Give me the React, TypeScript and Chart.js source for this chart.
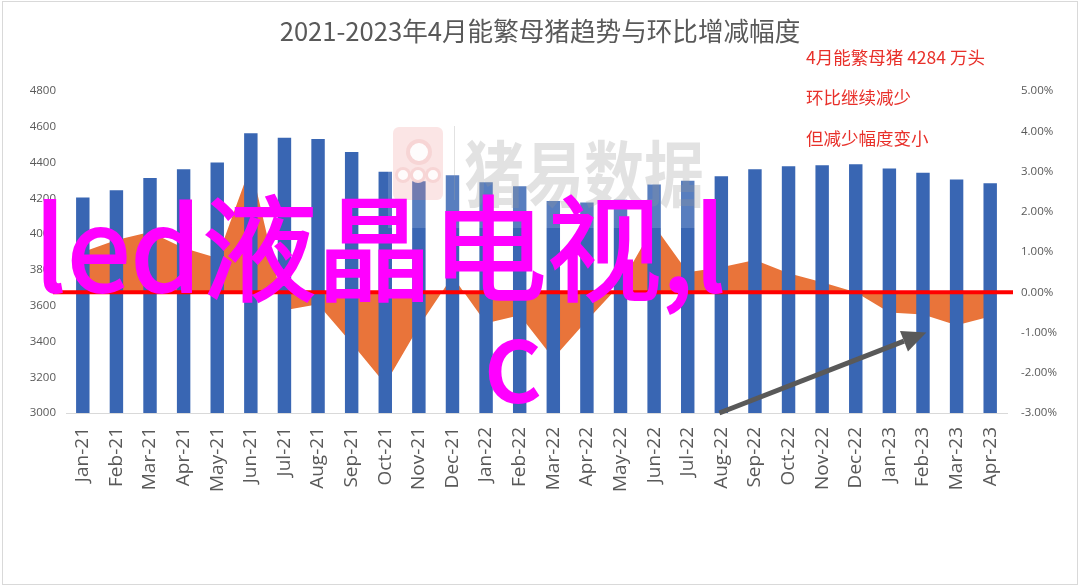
import React, { useEffect, useRef } from "react";
import { Chart, registerables } from "chart.js";

Chart.register(...registerables);

const categories = [
  "Jan-21", "Feb-21", "Mar-21", "Apr-21", "May-21", "Jun-21", "Jul-21", "Aug-21", "Sep-21", "Oct-21",
  "Nov-21", "Dec-21", "Jan-22", "Feb-22", "Mar-22", "Apr-22", "May-22", "Jun-22", "Jul-22", "Aug-22",
  "Sep-22", "Oct-22", "Nov-22", "Dec-22", "Jan-23", "Feb-23", "Mar-23", "Apr-23",
];

// 能繁母猪存栏（万头）
const sowInventory = [
  4205, 4245, 4313, 4363, 4400, 4564, 4539, 4531, 4459, 4348,
  4296, 4329, 4290, 4268, 4185, 4177, 4192, 4277, 4298, 4324,
  4362, 4379, 4385, 4390, 4367, 4343, 4305, 4284,
];

// 环比增减幅度（%）
const momChange = [
  1.0, 1.3, 1.5, 1.1, 0.85, 3.15, -0.45, -0.3, -1.27, -2.28,
  -0.85, 0.4, -0.77, -0.57, -1.64, -0.7, 0.2, 1.66, 0.5, 0.62,
  0.8, 0.47, 0.25, 0.0, -0.5, -0.55, -0.82, -0.6,
];

const leftTickMin = 3000;
const leftTickMax = 4800;
const leftTickStep = 200;
const rightTickMin = -3;
const rightTickMax = 5;
const rightTickStep = 1;

const titleText = "2021-2023年4月能繁母猪趋势与环比增减幅度";
const noteLines = ["4月能繁母猪 4284 万头", "环比继续减少", "但减少幅度变小"];
const overlayLine1 = "led液晶电视,l";
const overlayLine2 = "c";
const watermarkText = "猪易数据";

const axisColor = "#595959";
const tickFont = '"Open Sans", "Noto Sans", sans-serif';
const cjkFont = '"Noto Sans CJK SC", "Noto Sans", sans-serif';

const overlayPlugin = {
  id: "overlayPlugin",
  afterDatasetsDraw(chart: any) {
    const { ctx, scales } = chart;
    const y1 = scales.y1;
    const x = scales.x;
    const y = scales.y;
    // zero reference line
    const zy = y1.getPixelForValue(0);
    ctx.save();
    ctx.strokeStyle = "#ff0000";
    ctx.lineWidth = 4;
    ctx.beginPath();
    ctx.moveTo(53, zy);
    ctx.lineTo(1013, zy);
    ctx.stroke();

    // arrow
    const sx = x.getPixelForValue(18.94);
    const sy = y.getPixelForValue(3000);
    const ex = x.getPixelForValue(25.1);
    const ey = y1.getPixelForValue(-1.0);
    const ang = Math.atan2(ey - sy, ex - sx);
    const headLen = 24;
    const headW = 11;
    const bx = ex - headLen * Math.cos(ang);
    const by = ey - headLen * Math.sin(ang);
    ctx.strokeStyle = "#595959";
    ctx.fillStyle = "#595959";
    ctx.lineWidth = 5;
    ctx.lineCap = "butt";
    ctx.beginPath();
    ctx.moveTo(sx, sy);
    ctx.lineTo(bx, by);
    ctx.stroke();
    ctx.beginPath();
    ctx.moveTo(ex, ey);
    ctx.lineTo(bx + headW * Math.sin(ang), by - headW * Math.cos(ang));
    ctx.lineTo(bx - headW * Math.sin(ang), by + headW * Math.cos(ang));
    ctx.closePath();
    ctx.fill();

    // frame
    ctx.strokeStyle = "#d9d9d9";
    ctx.lineWidth = 1;
    ctx.strokeRect(2.5, 1.5, 1075, 583);
    ctx.restore();
  },
};

export default function App() {
  const canvasRef = useRef<HTMLCanvasElement | null>(null);

  useEffect(() => {
    if (!canvasRef.current) return;
    const chart = new Chart(canvasRef.current, {
      type: "bar",
      data: {
        labels: categories,
        datasets: [
          {
            type: "bar",
            label: "能繁母猪存栏",
            data: sowInventory,
            backgroundColor: "#3966b3",
            borderWidth: 0,
            barPercentage: 0.4,
            categoryPercentage: 1,
            yAxisID: "y",
            order: 1,
          },
          {
            type: "line",
            label: "环比",
            data: momChange,
            yAxisID: "y1",
            fill: "origin",
            backgroundColor: "#e9743a",
            borderWidth: 0,
            pointRadius: 0,
            tension: 0,
            order: 2,
          } as any,
        ],
      },
      options: {
        animation: false,
        responsive: false,
        layout: { padding: { top: 91, left: 0, right: 0, bottom: 0 } },
        plugins: {
          legend: { display: false },
          tooltip: { enabled: false },
          title: { display: false },
        },
        scales: {
          x: {
            grid: { display: false, drawTicks: false },
            border: { display: true, color: "#d9d9d9", width: 1 },
            ticks: {
              autoSkip: false,
              minRotation: 90,
              maxRotation: 90,
              padding: 14,
              color: axisColor,
              font: { family: tickFont, size: 19 },
            },
            afterFit: (s: any) => {
              s.height = 173;
            },
          },
          y: {
            position: "left",
            min: leftTickMin,
            max: leftTickMax,
            grid: { display: false, drawTicks: false },
            border: { display: false },
            ticks: {
              stepSize: leftTickStep,
              padding: 10,
              color: axisColor,
              font: { family: tickFont, size: 11.5 },
              callback: (v: any) => String(v),
            },
            afterFit: (s: any) => {
              s.width = 66;
            },
          },
          y1: {
            position: "right",
            min: rightTickMin,
            max: rightTickMax,
            grid: { display: false, drawTicks: false },
            border: { display: false },
            ticks: {
              stepSize: rightTickStep,
              padding: 14,
              color: axisColor,
              font: { family: tickFont, size: 11.5 },
              callback: (v: any) => Number(v).toFixed(2) + "%",
            },
            afterFit: (s: any) => {
              s.width = 73;
            },
          },
        },
      },
      plugins: [overlayPlugin],
    } as any);
    return () => chart.destroy();
  }, []);

  return (
    <div style={{ position: "absolute", left: 0, top: 0, width: 1080, height: 586, background: "#fff", overflow: "hidden" }}>
      <canvas ref={canvasRef} width={1080} height={586} style={{ position: "absolute", left: 0, top: 0, width: 1080, height: 586 }} />
      <div
        style={{
          position: "absolute",
          left: 0,
          top: 13,
          width: 1080,
          textAlign: "center",
          fontFamily: cjkFont,
          fontSize: 25.6,
          lineHeight: "34px",
          color: "#595959",
        }}
      >
        {titleText}
      </div>
      {/* watermark */}
      <div style={{ position: "absolute", left: 388, top: 122, width: 320, height: 106, background: "rgba(255,255,255,0.16)" }}>
        <div
          style={{
            position: "absolute",
            left: 5,
            top: 5,
            width: 50,
            height: 73,
            borderRadius: 6,
            background: "rgba(235,110,110,0.18)",
          }}
        >
          <div style={{ position: "absolute", left: 13, top: 12, width: 18, height: 18, borderRadius: "50%", background: "rgba(255,255,255,0.9)", border: "4px solid rgba(240,180,180,0.55)" }} />
          <div style={{ position: "absolute", left: 2, top: 40, width: 10, height: 10, borderRadius: "50%", background: "rgba(255,255,255,0.9)", border: "3px solid rgba(240,180,180,0.55)" }} />
          <div style={{ position: "absolute", left: 17, top: 40, width: 10, height: 10, borderRadius: "50%", background: "rgba(255,255,255,0.9)", border: "3px solid rgba(240,180,180,0.55)" }} />
          <div style={{ position: "absolute", left: 32, top: 40, width: 10, height: 10, borderRadius: "50%", background: "rgba(255,255,255,0.9)", border: "3px solid rgba(240,180,180,0.55)" }} />
        </div>
        <div style={{ position: "absolute", left: 66, top: 4, width: 1, height: 74, background: "rgba(160,160,160,0.3)" }} />
        <div
          style={{
            position: "absolute",
            left: 76,
            top: 0,
            fontFamily: cjkFont,
            fontWeight: 700,
            fontSize: 60,
            lineHeight: "80px",
            color: "rgba(150,150,150,0.28)",
            whiteSpace: "nowrap",
            transform: "scaleY(1.2)",
            transformOrigin: "top left",
          }}
        >
          {watermarkText}
        </div>
      </div>
      {/* red notes */}
      {noteLines.map((t, i) => (
        <div
          key={i}
          style={{
            position: "absolute",
            left: 806,
            top: [57, 97, 138][i] - 11,
            fontFamily: cjkFont,
            fontSize: 17.5,
            lineHeight: "22px",
            color: "#e8302a",
            whiteSpace: "nowrap",
          }}
        >
          {t}
        </div>
      ))}
      {/* magenta overlay text */}
      <div
        style={{
          position: "absolute",
          left: 34,
          top: 185,
          fontFamily: cjkFont,
          fontSize: 115,
          lineHeight: "115px",
          color: "#ff00ff",
          whiteSpace: "nowrap",
          WebkitTextStroke: "2px #ff00ff",
        }}
      >
        {overlayLine1}
      </div>
      <div
        style={{
          position: "absolute",
          left: 484,
          top: 297,
          fontFamily: cjkFont,
          fontSize: 112,
          lineHeight: "112px",
          color: "#ff00ff",
          whiteSpace: "nowrap",
          WebkitTextStroke: "2px #ff00ff",
        }}
      >
        {overlayLine2}
      </div>
    </div>
  );
}
